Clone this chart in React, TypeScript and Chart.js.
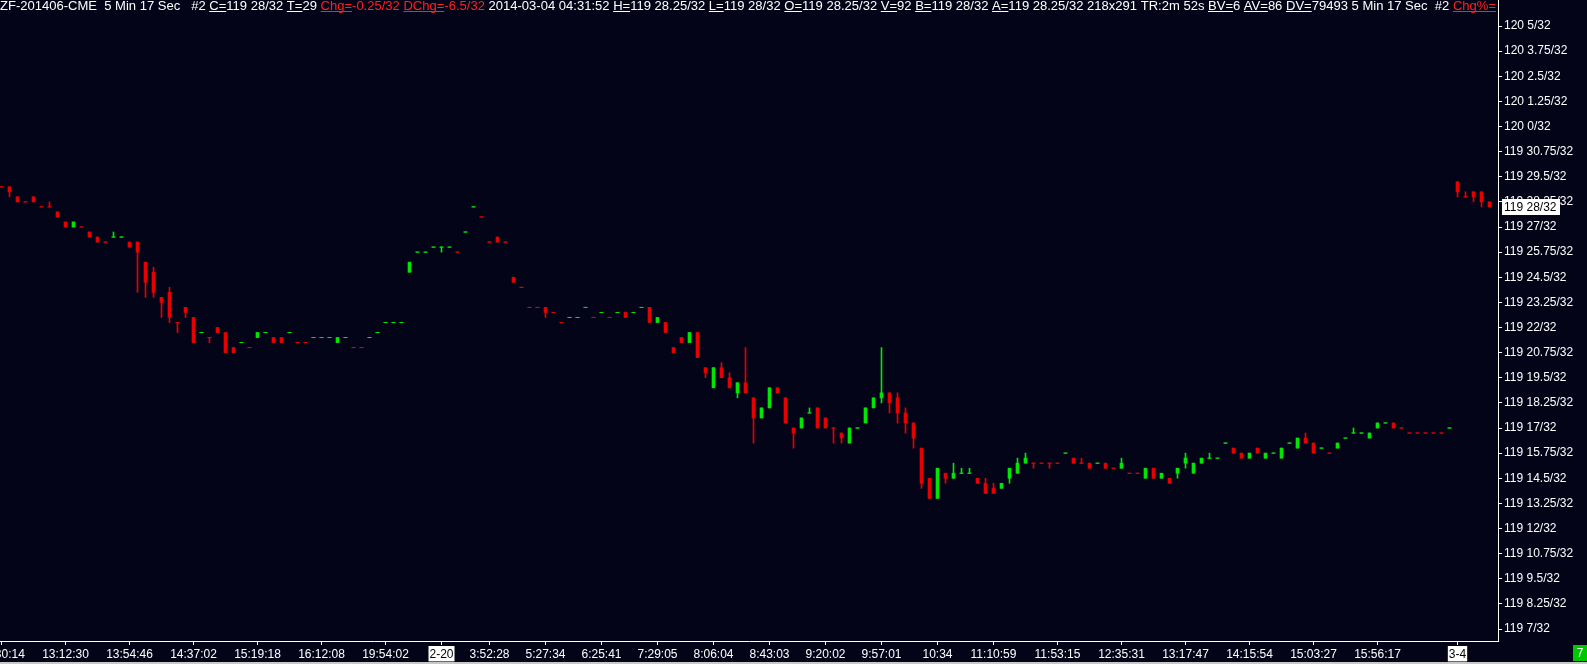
import React, { useEffect, useRef } from "react";
import { Chart, registerables } from "chart.js";

Chart.register(...registerables);

// Prices expressed in 32nds above 119 (e.g. 28 => "119 28/32", 33 => "120 1/32")
const openP = [
  29, 29, 28.5, 28.25, 28.5, 28, 28, 27.75, 27.25, 27,
  27, 26.75, 26.5, 26.25, 26.5, 26.5, 26.25, 26.25, 25.25, 24.75,
  23.5, 23.75, 22.25, 23, 22.5, 21.75, 21.5, 22, 21.75, 21,
  21.25, 21, 21.5, 21.75, 21.5, 21.5, 21.75, 21.25, 21.25, 21.5,
  21.5, 21.5, 21.25, 21.5, 21, 21, 21.5, 21.75, 22.25, 22.25,
  22.25, 24.75, 25.75, 25.75, 26, 26, 26, 25.75, 26.75, 28,
  27.5, 26.25, 26.5, 26.25, 24.5, 24, 23, 23, 23, 22.75,
  22.25, 22.5, 22.5, 23, 22.5, 22.75, 22.5, 22.75, 22.75, 22.75,
  23, 23, 22.25, 22.25, 21, 21.5, 21.25, 21.75, 20, 19,
  20, 19.5, 18.75, 19.25, 18.5, 17.5, 18, 19, 18.5, 17,
  17, 17.75, 18, 17.5, 17, 16.75, 16.25, 17, 17.25, 18,
  18.5, 18.75, 18.5, 17.75, 17.25, 16, 14.5, 13.5, 14.75, 14.5,
  14.75, 14.75, 14.5, 14.25, 14, 14, 14.5, 14.75, 15.25, 15.25,
  15.25, 15.25, 15.25, 15.75, 15.5, 15.25, 15.25, 15.25, 15.25, 15,
  15, 14.75, 14.75, 14.5, 15, 14.5, 14.5, 14.75, 15.25, 14.75,
  15.25, 15.5, 15.5, 16.25, 16, 15.75, 15.5, 16, 15.5, 15.75,
  15.5, 16.25, 16, 16.5, 16.25, 16, 15.75, 16, 16.5, 16.75,
  16.75, 16.5, 17, 17.25, 17.25, 17, 16.75, 16.75, 16.75, 16.75,
  16.75, 17, 29.25, 28.5, 28.75, 28.75, 28.25,
];
const highP = [
  29, 29, 28.5, 28.25, 28.5, 28, 28.25, 27.75, 27.25, 27.25,
  27, 26.75, 26.5, 26.25, 26.75, 26.5, 26.25, 26.25, 25.25, 25,
  23.5, 24, 22.25, 23, 22.5, 21.75, 21.5, 22, 21.75, 21,
  21.25, 21, 21.75, 21.75, 21.5, 21.5, 21.75, 21.25, 21.25, 21.5,
  21.5, 21.5, 21.5, 21.5, 21, 21, 21.5, 21.75, 22.25, 22.25,
  22.25, 25.25, 25.75, 25.75, 26, 26, 26, 25.75, 26.75, 28,
  27.5, 26.25, 26.5, 26.25, 24.5, 24, 23, 23, 23, 22.75,
  22.25, 22.5, 22.5, 23, 22.5, 22.75, 22.5, 22.75, 22.75, 22.75,
  23, 23, 22.5, 22.25, 21, 21.5, 21.75, 21.75, 20, 20,
  20.25, 19.75, 19.25, 21, 18.5, 18, 19, 19, 18.5, 17,
  17.5, 18, 18, 17.5, 17, 16.75, 17, 17, 18, 18.5,
  21, 18.75, 18.75, 18, 17.25, 16, 14.5, 15, 14.75, 15.25,
  15, 15, 14.5, 14.5, 14.25, 14.25, 15, 15.5, 15.75, 15.25,
  15.25, 15.25, 15.25, 15.75, 15.5, 15.5, 15.25, 15.25, 15.25, 15,
  15.5, 14.75, 14.75, 15, 15, 14.75, 14.5, 15, 15.75, 15.25,
  15.5, 15.75, 15.5, 16.25, 16, 15.75, 15.75, 16, 15.75, 15.75,
  16, 16.25, 16.5, 16.75, 16.25, 16, 15.75, 16.25, 16.5, 17,
  16.75, 16.75, 17.25, 17.25, 17.25, 17, 16.75, 16.75, 16.75, 16.75,
  16.75, 17, 29.25, 28.75, 28.75, 28.75, 28.25,
];
const lowP = [
  29, 28.5, 28.25, 28.25, 28.25, 28, 28, 27.5, 27, 27,
  27, 26.5, 26.25, 26.25, 26.5, 26.5, 26, 23.75, 23.5, 23.5,
  22.5, 22.25, 21.75, 22.5, 21.25, 21.75, 21.25, 21.75, 20.75, 20.75,
  21.25, 21, 21.5, 21.75, 21.25, 21.25, 21.75, 21.25, 21.25, 21.5,
  21.5, 21.5, 21.25, 21.5, 21, 21, 21.5, 21.75, 22.25, 22.25,
  22.25, 24.75, 25.75, 25.75, 26, 25.75, 26, 25.75, 26.75, 28,
  27.5, 26.25, 26.25, 26.25, 24.25, 24, 23, 23, 22.5, 22.75,
  22.25, 22.5, 22.5, 23, 22.5, 22.75, 22.5, 22.75, 22.5, 22.75,
  23, 22.25, 22.25, 21.75, 20.75, 21.25, 21.25, 20.5, 19.5, 19,
  19.5, 19, 18.5, 18.75, 16.25, 17.5, 18, 18.75, 17.25, 16,
  17, 17.75, 17, 17, 16.25, 16.25, 16.25, 17, 17.25, 18,
  18.25, 17.75, 17.25, 16.75, 16, 14, 13.5, 13.5, 14.25, 14.5,
  14.75, 14.75, 14.25, 13.75, 13.75, 14, 14.25, 14.75, 15.25, 15,
  15.25, 15, 15.25, 15.75, 15.25, 15.25, 15, 15.25, 15, 15,
  15, 14.75, 14.75, 14.5, 14.5, 14.5, 14.25, 14.5, 15, 14.75,
  15.25, 15.5, 15.5, 16.25, 15.75, 15.5, 15.5, 15.75, 15.5, 15.75,
  15.5, 16.25, 16, 16.25, 15.75, 16, 15.75, 16, 16.5, 16.75,
  16.75, 16.5, 17, 17.25, 17, 17, 16.75, 16.75, 16.75, 16.75,
  16.75, 17, 28.5, 28.5, 28.25, 28, 28,
];
const closeP = [
  29, 28.75, 28.25, 28.25, 28.25, 28, 28, 27.5, 27, 27.25,
  27, 26.5, 26.25, 26.25, 26.5, 26.5, 26, 25.75, 24.25, 23.75,
  23.25, 22.5, 22.25, 22.75, 21.25, 21.75, 21.5, 21.75, 20.75, 20.75,
  21.25, 21, 21.75, 21.75, 21.25, 21.25, 21.75, 21.25, 21.25, 21.5,
  21.5, 21.5, 21.5, 21.5, 21, 21, 21.5, 21.75, 22.25, 22.25,
  22.25, 25.25, 25.75, 25.75, 26, 26, 26, 25.75, 26.75, 28,
  27.5, 26.25, 26.25, 26.25, 24.25, 24, 23, 23, 22.75, 22.75,
  22.25, 22.5, 22.5, 23, 22.5, 22.75, 22.5, 22.75, 22.5, 22.75,
  23, 22.25, 22.5, 21.75, 20.75, 21.25, 21.75, 20.5, 19.75, 20,
  19.5, 19, 19.25, 18.75, 17.5, 18, 19, 18.75, 17.25, 16.75,
  17.5, 17.75, 17, 17, 17, 16.5, 17, 17, 18, 18.5,
  18.75, 18.25, 17.75, 17.25, 16.5, 14.25, 13.5, 15, 14.5, 14.75,
  14.75, 14.75, 14.25, 13.75, 13.75, 14.25, 15, 15.25, 15.5, 15.25,
  15.25, 15.25, 15.25, 15.75, 15.25, 15.25, 15, 15.25, 15, 15,
  15.25, 14.75, 14.75, 15, 14.5, 14.75, 14.25, 15, 15.5, 15.25,
  15.5, 15.5, 15.5, 16.25, 15.75, 15.5, 15.75, 15.75, 15.75, 15.75,
  16, 16.25, 16.5, 16.25, 15.75, 16, 15.75, 16.25, 16.5, 16.75,
  16.75, 16.75, 17.25, 17.25, 17, 17, 16.75, 16.75, 16.75, 16.75,
  16.75, 17, 28.75, 28.5, 28.5, 28.25, 28,
];

const xTickIndex = [0, 8, 16, 24, 32, 40, 48, 55, 61, 68, 75, 82, 89, 96, 103, 110, 117, 124, 132, 140, 148, 156, 164, 172, 182];
const xTickLabels = [
  "12:30:14", "13:12:30", "13:54:46", "14:37:02", "15:19:18", "16:12:08", "19:54:02", "2-20",
  "3:52:28", "5:27:34", "6:25:41", "7:29:05", "8:06:04", "8:43:03", "9:20:02", "9:57:01", "10:34",
  "11:10:59", "11:53:15", "12:35:31", "13:17:47", "14:15:54", "15:03:27", "15:56:17", "3-4",
];
const dateLabels = ["2-20", "3-4"];

const yTickValues = [
  7, 8.25, 9.5, 10.75, 12, 13.25, 14.5, 15.75, 17, 18.25, 19.5, 20.75, 22,
  23.25, 24.5, 25.75, 27, 28.25, 29.5, 30.75, 32, 33.25, 34.5, 35.75, 37,
];

const lastPrice = 28;
const statusText = "7";

const WHITE = "#ffffff";
const REDT = "#ff2020";
const headerRuns = [
  { t: "ZF-201406-CME  5 Min 17 Sec   #2 ", c: WHITE },
  { t: "C=", c: WHITE, u: true }, { t: "119 28/32 ", c: WHITE },
  { t: "T=", c: WHITE, u: true }, { t: "29 ", c: WHITE },
  { t: "Chg=", c: REDT, u: true }, { t: "-0.25/32 ", c: REDT },
  { t: "DChg=", c: REDT, u: true }, { t: "-6.5/32 ", c: REDT },
  { t: "2014-03-04 04:31:52 ", c: WHITE },
  { t: "H=", c: WHITE, u: true }, { t: "119 28.25/32 ", c: WHITE },
  { t: "L=", c: WHITE, u: true }, { t: "119 28/32 ", c: WHITE },
  { t: "O=", c: WHITE, u: true }, { t: "119 28.25/32 ", c: WHITE },
  { t: "V=", c: WHITE, u: true }, { t: "92 ", c: WHITE },
  { t: "B=", c: WHITE, u: true }, { t: "119 28/32 ", c: WHITE },
  { t: "A=", c: WHITE, u: true }, { t: "119 28.25/32 218x291 TR:2m 52s ", c: WHITE },
  { t: "BV=", c: WHITE, u: true }, { t: "6 ", c: WHITE },
  { t: "AV=", c: WHITE, u: true }, { t: "86 ", c: WHITE },
  { t: "DV=", c: WHITE, u: true }, { t: "79493 5 Min 17 Sec  #2 ", c: WHITE },
  { t: "Chg%=", c: REDT, u: true },
];

const BG = "#040419";
const UP = "#00e600";
const DOWN = "#e60000";
const FONT_FAMILY = "'Liberation Sans', Arial, sans-serif";
const FONT = `12px ${FONT_FAMILY}`;

function fmtNum(v: number): string {
  return String(Math.round(v * 100) / 100);
}
function formatPrice(v: number): string {
  if (v >= 32) return `120 ${fmtNum(v - 32)}/32`;
  return `119 ${fmtNum(v)}/32`;
}

function computeColors(): string[] {
  const cols: string[] = [];
  for (let i = 0; i < closeP.length; i++) {
    const o = openP[i], c = closeP[i];
    let col: string;
    if (c > o) col = UP;
    else if (c < o) col = DOWN;
    else if (i === 0) col = DOWN;
    else if (c > closeP[i - 1]) col = UP;
    else if (c < closeP[i - 1]) col = DOWN;
    else col = cols[i - 1];
    cols.push(col);
  }
  return cols;
}

const decorPlugin = {
  id: "decor",
  beforeDraw(chart: any) {
    const ctx = chart.ctx;
    ctx.save();
    ctx.fillStyle = BG;
    ctx.fillRect(0, 0, chart.width, chart.height);
    ctx.restore();
  },
  afterDraw(chart: any) {
    const ctx = chart.ctx;
    const ys = chart.scales.y;
    ctx.save();
    // header line
    ctx.font = FONT;
    ctx.textBaseline = "alphabetic";
    ctx.textAlign = "left";
    let total = 0;
    for (const r of headerRuns) total += ctx.measureText(r.t).width;
    const sx = 1496 / total;
    ctx.save();
    ctx.scale(sx, 1);
    let x = 0;
    for (const r of headerRuns) {
      const w = ctx.measureText(r.t).width;
      ctx.fillStyle = r.c;
      ctx.fillText(r.t, x, 10);
      if ((r as any).u) ctx.fillRect(x, 11, w, 1);
      x += w;
    }
    ctx.restore();

    // last price marker
    const py = Math.round(ys.getPixelForValue(lastPrice));
    ctx.fillStyle = "#ffffff";
    ctx.fillRect(1502, py - 8, 58, 16);
    ctx.fillStyle = "#000000";
    ctx.font = FONT;
    ctx.textBaseline = "middle";
    ctx.textAlign = "left";
    ctx.fillText(formatPrice(lastPrice), 1504, py + 1);

    // status box
    ctx.fillStyle = "#00c800";
    ctx.fillRect(1573, 645, 14, 16);
    ctx.fillStyle = "#ffffff";
    ctx.textAlign = "center";
    ctx.fillText(statusText, 1580, 654);

    // bottom strip
    ctx.fillStyle = "#c8c8c8";
    ctx.fillRect(0, 662, chart.width, 2);
    ctx.restore();
  },
};

export default function App() {
  const ref = useRef<HTMLCanvasElement | null>(null);

  useEffect(() => {
    if (!ref.current) return;
    const colors = computeColors();
    const bodies = closeP.map((c, i) => ({ x: i, y: [openP[i], c] }));
    const wicks = closeP.map((_, i) => ({ x: i, y: [lowP[i], highP[i]] }));
    const dojis = closeP.map((c, i) => ({ x: i, y: openP[i] === c ? c : null }));

    const chart = new Chart(ref.current, {
      type: "bar",
      data: {
        datasets: [
          {
            label: "body",
            data: bodies as any,
            backgroundColor: colors,
            borderWidth: 0,
            barThickness: 3,
            grouped: false,
          } as any,
          {
            type: "scatter",
            label: "doji",
            data: dojis as any,
            pointStyle: "line",
            pointRadius: 2,
            pointBorderWidth: 1,
            pointBorderColor: colors,
            pointBackgroundColor: colors,
            showLine: false,
          } as any,
          {
            label: "wick",
            data: wicks as any,
            backgroundColor: colors,
            borderWidth: 0,
            barThickness: 1,
            grouped: false,
          } as any,
        ],
      },
      options: {
        responsive: false,
        animation: false,
        devicePixelRatio: 1,
        events: [],
        layout: { padding: 0, autoPadding: false } as any,
        plugins: { legend: { display: false }, tooltip: { enabled: false } },
        scales: {
          x: {
            type: "linear",
            position: "bottom",
            min: -1.5 / 8,
            max: (1498 - 1.5) / 8,
            offset: false,
            bounds: "data",
            grid: {
              display: true,
              drawOnChartArea: false,
              drawTicks: true,
              tickLength: 4,
              color: "#ffffff",
              offset: false,
            },
            border: { display: true, color: "#ffffff", width: 1 },
            afterBuildTicks: (scale: any) => {
              scale.ticks = xTickIndex.map((v) => ({ value: v }));
            },
            afterFit: (scale: any) => {
              scale.height = 23;
              scale.paddingLeft = 0;
              scale.paddingRight = 0;
              scale.paddingTop = 0;
              scale.paddingBottom = 0;
            },
            ticks: {
              autoSkip: false,
              maxRotation: 0,
              minRotation: 0,
              padding: 2,
              font: { family: FONT_FAMILY, size: 12 },
              color: (ctx: any) => {
                const idx = xTickIndex.indexOf(ctx.tick ? ctx.tick.value : -1);
                return idx >= 0 && dateLabels.includes(xTickLabels[idx]) ? "#000000" : "#ffffff";
              },
              showLabelBackdrop: (ctx: any) => {
                const idx = xTickIndex.indexOf(ctx.tick ? ctx.tick.value : -1);
                return idx >= 0 && dateLabels.includes(xTickLabels[idx]);
              },
              backdropColor: "#ffffff",
              backdropPadding: { top: 1, bottom: 0, left: 1, right: 1 },
              callback: (value: any) => {
                const idx = xTickIndex.indexOf(Number(value));
                return idx >= 0 ? xTickLabels[idx] : "";
              },
            } as any,
          },
          y: {
            type: "linear",
            position: "right",
            min: 7 - 12 / 20.1,
            max: 37 + 26 / 20.1,
            bounds: "data",
            grid: {
              display: true,
              drawOnChartArea: false,
              drawTicks: true,
              tickLength: 4,
              color: "#ffffff",
            },
            border: { display: true, color: "#ffffff", width: 1 },
            afterBuildTicks: (scale: any) => {
              scale.ticks = yTickValues.map((v) => ({ value: v }));
            },
            afterFit: (scale: any) => {
              scale.width = 89;
              scale.paddingLeft = 0;
              scale.paddingRight = 0;
              scale.paddingTop = 0;
              scale.paddingBottom = 0;
            },
            ticks: {
              autoSkip: false,
              padding: 2,
              color: "#ffffff",
              font: { family: FONT_FAMILY, size: 12 },
              callback: (value: any) => formatPrice(Number(value)),
            },
          },
        },
      } as any,
      plugins: [decorPlugin],
    });
    return () => chart.destroy();
  }, []);

  return (
    <div style={{ position: "fixed", left: 0, top: 0, width: 1587, height: 664, background: BG }}>
      <canvas ref={ref} width={1587} height={664} style={{ display: "block" }} />
    </div>
  );
}
